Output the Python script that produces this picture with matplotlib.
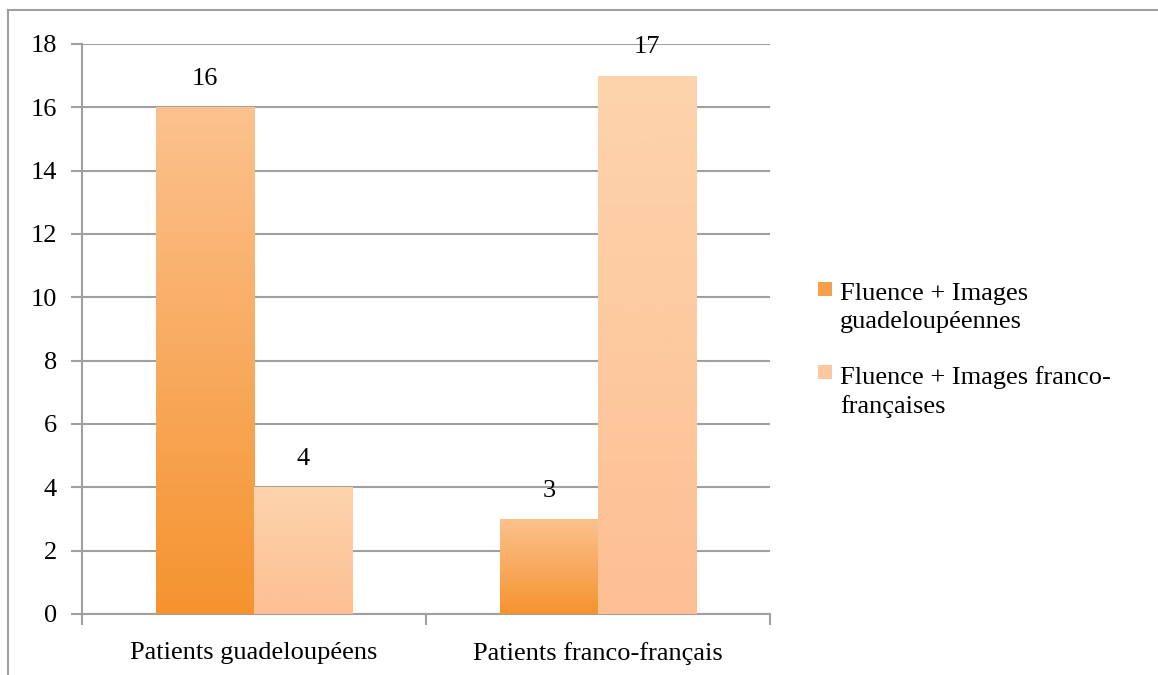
import numpy as np
import matplotlib
matplotlib.use("Agg")
import matplotlib.pyplot as plt
from matplotlib.colors import LinearSegmentedColormap
from matplotlib.patches import Rectangle
from matplotlib.lines import Line2D

plt.rcParams['font.family'] = ['Liberation Serif', 'DejaVu Serif']

categories = ["Patients guadeloupéens", "Patients franco-français"]
series_names = ["Fluence + Images\nguadeloupéennes", "Fluence + Images franco-\nfrançaises"]
images_guad = [16, 3]
images_franco = [4, 17]

# gradient colours (bottom -> top) for each series, and legend swatch colours
grad_colors = [("#F5932F", "#FCC28E"), ("#FDBF93", "#FDD4AC")]
legend_colors = ["#F7A04A", "#FDC8A0"]

FS = 19

fig = plt.figure(figsize=(11.58, 6.75), dpi=100)
ax = fig.add_axes([82 / 1158, 1 - 614 / 675, 688 / 1158, 570 / 675])

# frame lines round the picture (top and left only)
fig.add_artist(Line2D([8 / 1158, 1], [1 - 10 / 675] * 2, color="#A0A0A0", lw=1.5))
fig.add_artist(Line2D([8 / 1158] * 2, [0, 1 - 10 / 675], color="#A0A0A0", lw=1.5))

x = np.arange(len(categories))
width = 0.286
grad = np.linspace(0, 1, 256).reshape(-1, 1)

for i, (vals, cols) in enumerate(zip([images_guad, images_franco], grad_colors)):
    cmap = LinearSegmentedColormap.from_list(f"g{i}", list(cols))
    offs = x + (i - 1) * width + width / 2
    bars = ax.bar(offs, vals, width, color="none", edgecolor="none", zorder=3)
    for b, v in zip(bars, vals):
        x0 = b.get_x()
        im = ax.imshow(grad, cmap=cmap, origin="lower", aspect="auto",
                       extent=[x0, x0 + width, 0, v], zorder=3)
        im.set_clip_path(b)
        ax.text(x0 + width / 2, v + 0.55, str(v), ha="center", va="bottom", fontsize=FS)

ax.set_xlim(-0.5, 1.5)
ax.set_ylim(0, 18)
ax.set_yticks(range(0, 19, 2))
ax.set_xticks(x)
ax.set_xticklabels(categories, fontsize=FS)
ax.tick_params(axis="x", length=0, pad=20)
ax.tick_params(axis="y", length=8, width=1.5, color="#A0A0A0", labelsize=FS, pad=10)
ax.set_xticks([-0.5, 0.5, 1.5], minor=True)
ax.tick_params(axis="x", which="minor", length=8, width=1.5, color="#A0A0A0")
ax.yaxis.grid(True, color="#A0A0A0", lw=1.5, zorder=0)
ax.set_axisbelow(True)
for s in ["top", "right"]:
    ax.spines[s].set_visible(False)
for s in ["left", "bottom"]:
    ax.spines[s].set_color("#A0A0A0")
    ax.spines[s].set_linewidth(1.5)

# legend drawn by hand: swatch level with the first text line
for k, (name, col) in enumerate(zip(series_names, legend_colors)):
    ytop = 282 + k * 83
    fig.add_artist(Rectangle((818 / 1158, 1 - (ytop + 14) / 675), 14 / 1158, 14 / 675,
                             facecolor=col, edgecolor="none", transform=fig.transFigure))
    fig.text(840 / 1158, 1 - (ytop + 1) / 675, name, ha="left", va="top",
             fontsize=FS, linespacing=1.35)

fig.savefig("out.png", dpi=100)
